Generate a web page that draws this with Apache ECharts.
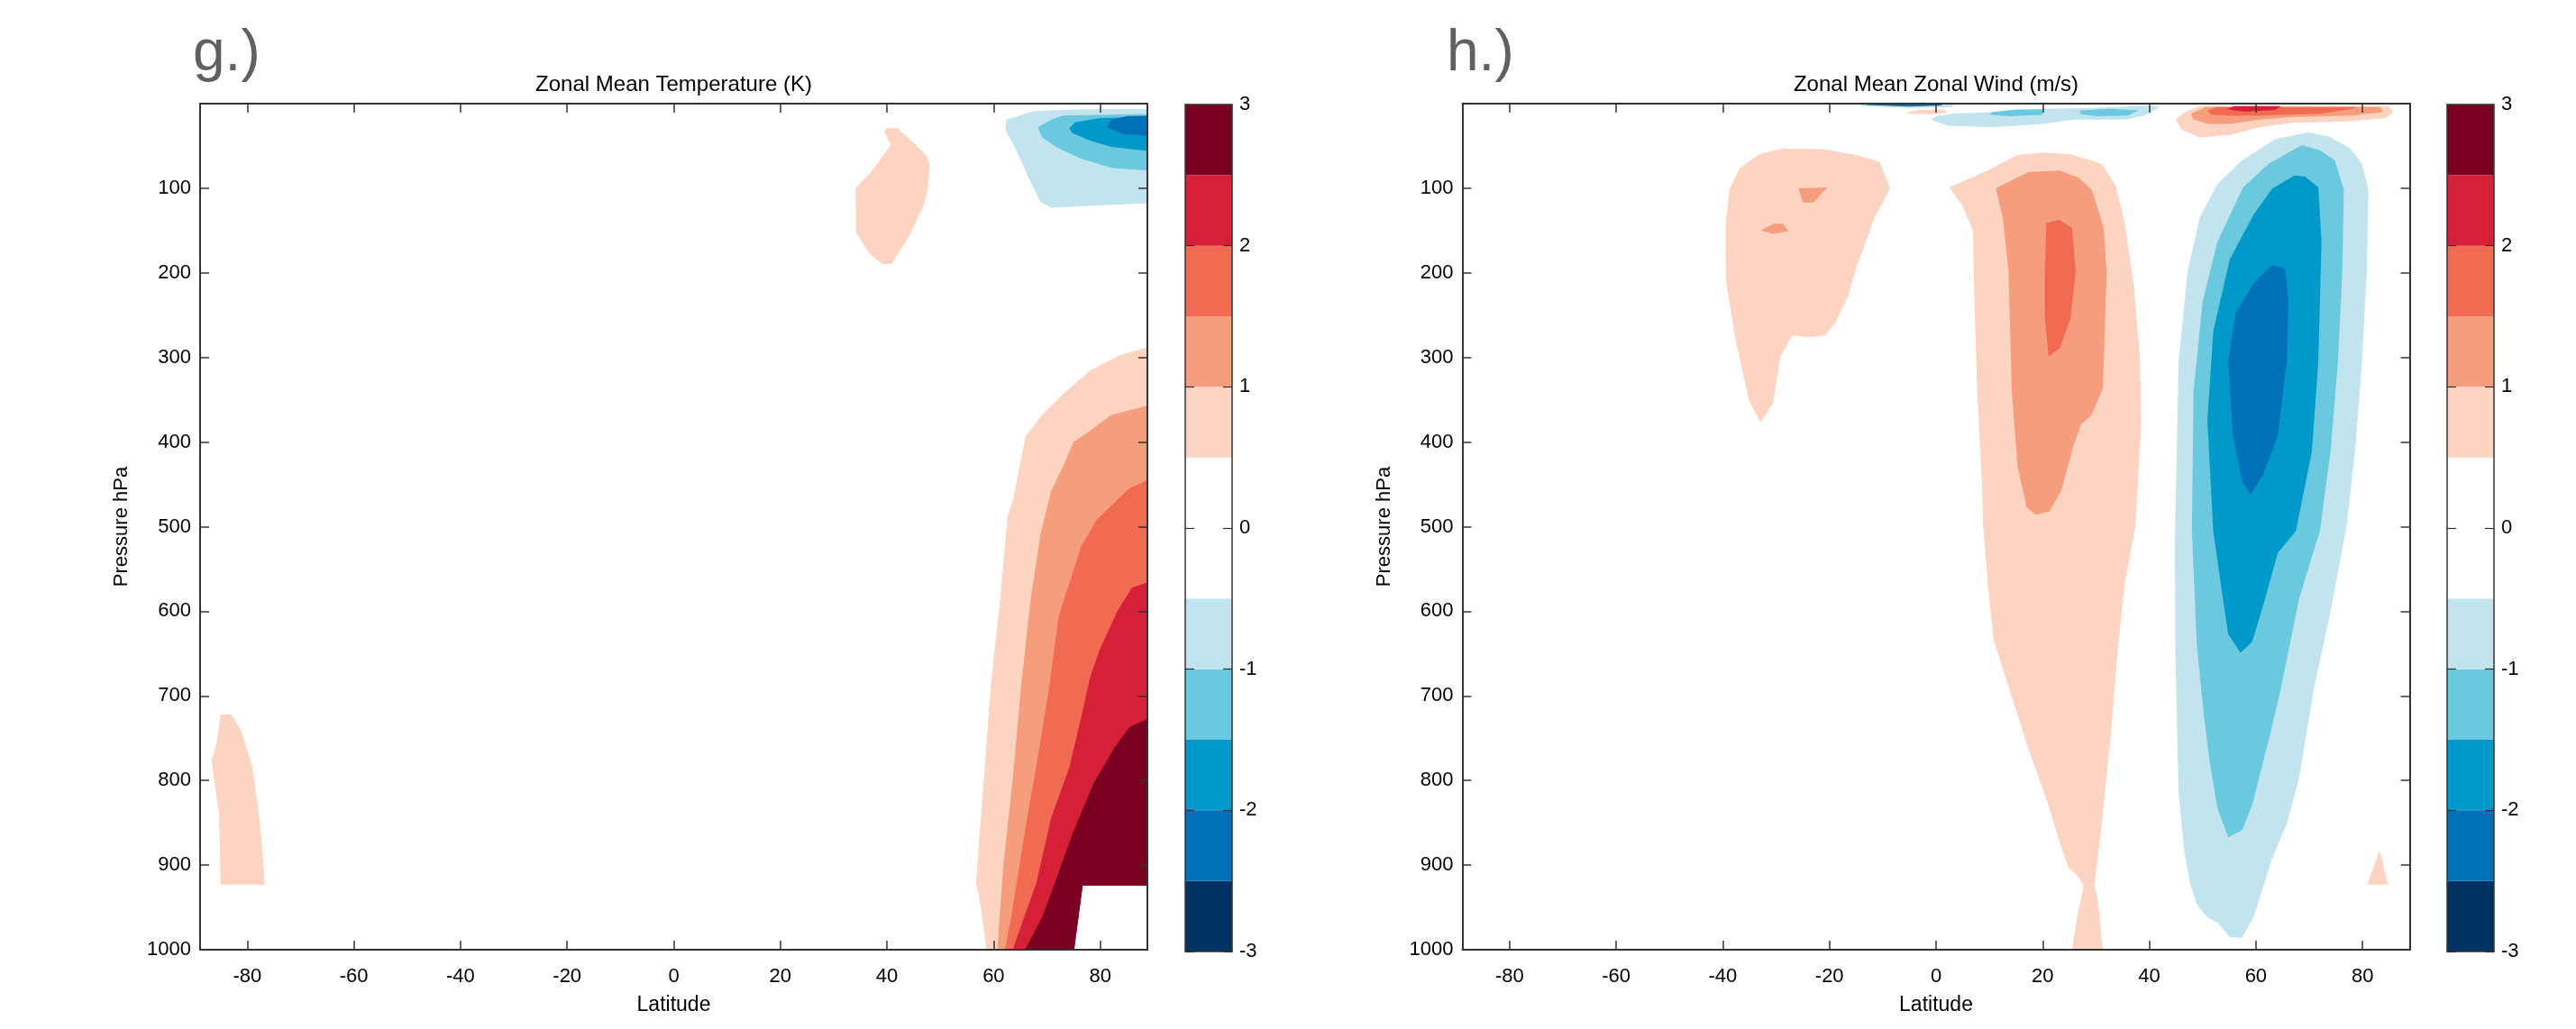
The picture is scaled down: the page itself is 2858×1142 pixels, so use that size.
<!DOCTYPE html>
<html>
<head>
<meta charset="utf-8">
<title>Zonal mean response</title>
<script src="https://cdn.jsdelivr.net/npm/echarts@6/dist/echarts.min.js"></script>
<style>
  html, body { margin: 0; padding: 0; background: #fff; }
  #chart { width: 2858px; height: 1142px; }
</style>
</head>
<body>
<div id="chart"></div>
<script>
// axis ticks
const latTicks = [-80, -60, -40, -20, 0, 20, 40, 60, 80]
const latMin = -88.85
const latMax = 88.85
const cbEdges = [-3, -2.5, -2, -1.5, -1, -0.5, 0, 0.5, 1, 1.5, 2, 2.5, 3]
const cbColors = ['#003361', '#0070b8', '#0099c9', '#6ac8df', '#c1e4ef', '#ffffff',
  '#ffffff', '#fcd4c1', '#f59d7c', '#f16b52', '#d62038', '#7a0021']

// contour polygons, [latitude, pressure hPa]
// g.) temperature
const tPeachSP = [[-85, 722], [-83, 722], [-81.1, 742], [-79.1, 783], [-78.2, 822], [-77.5, 857],
  [-76.7, 923], [-85, 923], [-85.3, 840], [-86.7, 776], [-85.8, 758], [-85.1, 726]]
const tPeachMid = [[39.8, 29], [42, 29], [45.4, 49], [47.5, 62], [48, 72], [47.7, 98], [46.9, 120],
  [44.3, 155], [40.9, 189], [39.2, 190], [36.7, 177], [34.2, 152], [34.1, 100], [37, 81],
  [40.7, 49], [39.6, 34]]
const tPeachNH = [[92, 288], [88.85, 288], [83.8, 297], [78.2, 315], [73.1, 343], [69.1, 368],
  [66, 393], [64.9, 428], [63.8, 464], [62.6, 489], [61.2, 588], [59.5, 686], [58.1, 804],
  [56.7, 922], [57.3, 938], [58.7, 1000], [58.7, 1010], [75, 1010], [75.1, 1000], [76.7, 924], [92, 924]]
const tSalmonNH = [[92, 357], [88.85, 357], [82.1, 368], [77.6, 389], [75, 400], [73.1, 428],
  [70.8, 458], [68.8, 509], [66.9, 588], [65.2, 686], [63.5, 804], [61.8, 902], [60.7, 1000],
  [60.7, 1010], [75, 1010], [75.1, 1000], [76.7, 924], [92, 924]]
const tOrangeNH = [[92, 445], [88.85, 445], [85.4, 455], [79.3, 492], [76.4, 524], [74.2, 567],
  [72.2, 606], [70.5, 686], [68.5, 765], [66.3, 844], [64.3, 922], [63.3, 962], [62.1, 1000],
  [62.1, 1010], [75, 1010], [75.1, 1000], [76.7, 924], [92, 924]]
const tRedNH = [[92, 566], [88.85, 566], [86, 572], [83.2, 600], [79.8, 647], [78.1, 678],
  [76.4, 726], [74.2, 785], [70.8, 844], [68, 922], [65.7, 962], [63.6, 1000],
  [63.6, 1010], [75, 1010], [75.1, 1000], [76.7, 924], [92, 924]]
const tDarkNH = [[92, 727], [88.85, 727], [85.5, 737], [82.7, 761], [78.7, 804], [74.8, 863],
  [71.9, 914], [69.1, 962], [65.9, 1000], [65.9, 1010], [75, 1010], [75.1, 1000], [76.7, 924], [92, 924]]
const tBlue1 = [[62.4, 19], [67.4, 9], [75, 7], [92, 6], [92, 118], [88.85, 118], [80, 120],
  [70.8, 123], [68.8, 116], [66.3, 84], [64, 52], [62.2, 31]]
const tBlue2 = [[68.3, 28], [70.8, 19], [73, 14], [92, 12], [92, 79], [88.85, 79], [82.1, 76],
  [76.4, 65], [71.9, 52], [69.1, 40]]
const tBlue3 = [[74.2, 29], [75.3, 22], [80, 17], [92, 16], [92, 56], [88.85, 56], [82.1, 51],
  [78.2, 44], [74.8, 35]]
const tBlue4 = [[81.2, 28], [82.1, 19], [85, 15], [92, 14], [92, 38], [88.85, 38], [84.3, 36]]

// h.) zonal wind
const uPeachSH = [[-36.8, 76], [-32.9, 59], [-28.7, 53], [-21, 54], [-14.8, 61], [-10.6, 69],
  [-8.6, 100], [-11.5, 134], [-14.8, 191], [-16.5, 227], [-18.8, 258], [-20.8, 274], [-23.9, 276],
  [-27, 274], [-29.2, 299], [-30.6, 354], [-32.9, 377], [-35.1, 351], [-37.7, 276], [-39.4, 209],
  [-39.5, 145], [-38.8, 102]]
const uSalmonSH1 = [[-25.8, 100], [-20.4, 99], [-23, 117], [-25, 117]]
const uSalmonSH2 = [[-32.9, 150], [-30.4, 142], [-28.7, 142], [-27.7, 151], [-30.6, 154]]
const uPeachTrop = [[2.5, 99], [10, 78], [15.1, 61], [20.1, 58], [25.2, 60], [31.1, 71], [33.7, 97],
  [35.4, 141], [37.1, 216], [38.2, 297], [38.5, 375], [37.4, 500], [35.4, 567], [34.2, 638],
  [32.8, 744], [31.1, 851], [29.7, 925], [30.3, 939], [31.3, 1000], [31.3, 1010], [25.5, 1010],
  [25.5, 1000], [26.6, 957], [27.7, 925], [26.6, 913], [24.9, 904], [23.5, 879], [20.7, 822],
  [17.3, 762], [13.9, 695], [10.8, 634], [9.7, 567], [8.8, 496], [8.6, 446], [7.7, 340],
  [7.2, 234], [6.9, 149], [4.9, 120]]
const uSalmonTrop = [[11.2, 100], [17.3, 81], [23.2, 79], [26.9, 88], [29.2, 102], [31.4, 145],
  [32, 198], [31.3, 336], [29.2, 368], [27.2, 379], [25.8, 404], [23.5, 457], [21.3, 482],
  [18.7, 486], [17, 477], [15.3, 429], [14.2, 340], [13.6, 198], [12.5, 134]]
const uOrangeTrop = [[20.7, 141], [23.1, 137], [25.5, 147], [26.2, 198], [25.2, 255], [23.2, 289],
  [21.1, 299], [20.4, 251], [20.4, 198]]
const uBlue1 = [[44.8, 520], [45.5, 305], [47.2, 198], [49.5, 134], [52.8, 95], [57.4, 67],
  [63.6, 42], [69.8, 34], [73.7, 39], [77.7, 53], [79.9, 71], [81.1, 102], [80.8, 198], [79.9, 305],
  [78.6, 411], [77, 500], [74, 600], [70.9, 691], [68.1, 797], [65.8, 851], [63, 893], [59.6, 961],
  [57.4, 986], [55.1, 985], [52.8, 968], [50.9, 962], [48.9, 946], [47.8, 925], [46.6, 886],
  [45.5, 815], [44.9, 649]]
const uBlue2 = [[48, 505], [48.3, 340], [50, 234], [52.8, 163], [57.6, 99], [62.4, 71], [68.6, 49],
  [72, 55], [74.8, 67], [76.5, 102], [76.2, 198], [75.4, 305], [74, 411], [72, 505], [68.1, 585],
  [66.4, 638], [64.7, 691], [63, 737], [61.3, 779], [59.3, 829], [57.4, 859], [54.8, 867],
  [52.8, 833], [51.2, 773], [50, 709], [48.9, 638]]
const uBlue3 = [[52, 505], [50.9, 375], [52, 269], [55.1, 184], [59.6, 131], [63, 101], [67.2, 85],
  [69.2, 86], [71.7, 99], [72.3, 163], [71.7, 305], [70.5, 411], [67.5, 505], [64.1, 531],
  [61.6, 588], [59.3, 636], [57.1, 649], [54.8, 627], [53.4, 567]]
const uBlue4 = [[63, 191], [65.5, 195], [66.1, 234], [65.8, 305], [64.1, 393], [61.3, 439],
  [59, 462], [57.4, 446], [55.7, 393], [54.8, 305], [56.2, 248], [59.6, 212]]
const uPeachNP = [[83.2, 883], [84.8, 923], [80.9, 923]]
// thin features near the model top
const uBlueTop1 = [[-14, -5], [4, -5], [3, 4], [-5, 5], [-14, 3]]
const uBlueTop4 = [[-13, -5], [2, -5], [1, 2], [-5, 3.5], [-13, 1.5]]
const uPeachTop = [[-5.5, 10], [-3, 7.5], [1.5, 7], [2, 11], [-1, 12.5], [-5, 12]]
const uBlueBand = [[-1, 19], [2.3, 26], [10.5, 28], [20, 24], [26, 19], [35.5, 19], [39.1, 14],
  [42, 4], [40, 2], [30, 5], [20, 6], [10, 10], [3, 12], [0, 15]]
const uBlueBandA = [[10.5, 10], [15, 7], [20, 7], [20, 13], [14, 15], [10, 13]]
const uBlueBandB = [[27, 8], [33, 6], [38, 8], [36, 14], [30, 15], [27, 12]]
const uPeachTopN = [[44.9, 19], [46.6, 10], [49.5, 3], [85, 3], [85.8, 10], [84.4, 17], [77.7, 21],
  [66.4, 23], [60.7, 28], [55.1, 37], [49.5, 40], [46.1, 31]]
const uSalmonTopN = [[48.3, 19], [47.8, 12], [50.6, 4], [83.3, 4], [83.9, 10], [77.7, 14],
  [66.4, 16], [60.7, 19], [55.1, 24], [51.2, 24]]
const uOrangeTopN = [[51.7, 13], [50.9, 8.5], [52.5, 4], [79, 4], [77.7, 6.7], [72, 12],
  [60.7, 14], [55.1, 14]]
const uRedTopN = [[54.5, 6.7], [56, 3], [64.7, 3], [63.6, 7.4], [57.9, 9.5]]

// drawing order per panel: [polygon, colour bin index]
const tempLayers = [
  [tPeachSP, 7], [tPeachMid, 7], [tPeachNH, 7], [tSalmonNH, 8], [tOrangeNH, 9], [tRedNH, 10],
  [tDarkNH, 11], [tBlue1, 4], [tBlue2, 3], [tBlue3, 2], [tBlue4, 1]
]
const windLayers = [
  [uPeachSH, 7], [uSalmonSH1, 8], [uSalmonSH2, 8],
  [uPeachTrop, 7], [uSalmonTrop, 8], [uOrangeTrop, 9],
  [uBlue1, 4], [uBlue2, 3], [uBlue3, 2], [uBlue4, 1], [uPeachNP, 7],
  [uBlueTop1, 4], [uBlueTop4, 1], [uPeachTop, 7], [uBlueBand, 4], [uBlueBandA, 3], [uBlueBandB, 3],
  [uPeachTopN, 7], [uSalmonTopN, 8], [uOrangeTopN, 9], [uRedTopN, 10]
]

const font = 'Liberation Sans'
const lineColor = '#333'
const plots = [
  { left: 222, title: 'Zonal Mean Temperature (K)', tag: 'g.)', tagLeft: 209, layers: tempLayers, cb: 1315 },
  { left: 1622.5, title: 'Zonal Mean Zonal Wind (m/s)', tag: 'h.)', tagLeft: 1600, layers: windLayers, cb: 2715 }
]
const plotTop = 115
const plotW = 1051
const plotH = 939

let chart = echarts.init(document.getElementById('chart'), null, { renderer: 'canvas' })

let grid = []
let xAxis = []
let yAxis = []
let series = []
let title = []

function tickStyle() {
  return { show: true, inside: true, length: 10, lineStyle: { color: lineColor, width: 1.5 } }
}
function frameLine(w) {
  return { show: true, onZero: false, lineStyle: { color: lineColor, width: w } }
}

plots.forEach(function (pl, k) {
  grid.push({ left: pl.left, top: plotTop, width: plotW, height: plotH })
  grid.push({ left: pl.cb, top: plotTop + 1, width: 52, height: plotH + 1 })
  let g = k * 2
  let c = k * 2 + 1
  title.push({
    text: pl.tag, left: pl.tagLeft, top: 23,
    textStyle: { fontFamily: font, fontWeight: 'normal', fontSize: 64, color: '#606060' }
  })
  // lat/pressure axes, bottom & left with labels, top & right only ticks
  xAxis.push({
    type: 'value', gridIndex: g, min: latMin, max: latMax, position: 'bottom', z: 10,
    name: 'Latitude', nameLocation: 'middle', nameGap: 50,
    nameTextStyle: { fontFamily: font, fontSize: 23, color: '#000' },
    axisLine: frameLine(2),
    axisTick: Object.assign(tickStyle(), { customValues: latTicks }),
    axisLabel: { customValues: latTicks, margin: 19, fontFamily: font, fontSize: 22, color: '#000' },
    splitLine: { show: false }
  })
  xAxis.push({
    type: 'value', gridIndex: g, min: latMin, max: latMax, position: 'top', z: 10,
    name: pl.title, nameLocation: 'middle', nameGap: 9,
    nameTextStyle: { fontFamily: font, fontSize: 24, color: '#000' },
    axisLine: frameLine(2),
    axisTick: Object.assign(tickStyle(), { customValues: latTicks }),
    axisLabel: { show: false },
    splitLine: { show: false }
  })
  yAxis.push({
    type: 'value', gridIndex: g, min: 0, max: 1000, interval: 100, inverse: true, position: 'left', z: 10,
    name: 'Pressure hPa', nameLocation: 'middle', nameGap: 76, nameRotate: 90,
    nameTextStyle: { fontFamily: font, fontSize: 22, color: '#000' },
    axisLine: frameLine(2),
    axisTick: tickStyle(),
    axisLabel: {
      margin: 10, fontFamily: font, fontSize: 22, color: '#000',
      formatter: function (v) { return v === 0 ? '' : String(v) }
    },
    splitLine: { show: false }
  })
  yAxis.push({
    type: 'value', gridIndex: g, min: 0, max: 1000, interval: 100, inverse: true, position: 'right', z: 10,
    axisLine: frameLine(2),
    axisTick: tickStyle(),
    axisLabel: { show: false },
    splitLine: { show: false }
  })
  // colour bar axes
  xAxis.push({
    type: 'value', gridIndex: c, min: 0, max: 1, position: 'bottom', z: 10,
    axisLine: frameLine(1.5),
    axisTick: { show: false }, axisLabel: { show: false }, splitLine: { show: false }
  })
  xAxis.push({
    type: 'value', gridIndex: c, min: 0, max: 1, position: 'top', z: 10,
    axisLine: frameLine(1.5),
    axisTick: { show: false }, axisLabel: { show: false }, splitLine: { show: false }
  })
  yAxis.push({
    type: 'value', gridIndex: c, min: -3, max: 3, interval: 1, position: 'left', z: 10,
    axisLine: frameLine(1.5),
    axisTick: { show: true, inside: true, length: 10, lineStyle: { color: lineColor, width: 1.2 } },
    axisLabel: { show: false }, splitLine: { show: false }
  })
  yAxis.push({
    type: 'value', gridIndex: c, min: -3, max: 3, interval: 1, position: 'right', z: 10,
    axisLine: frameLine(1.5),
    axisTick: { show: true, inside: true, length: 10, lineStyle: { color: lineColor, width: 1.2 } },
    axisLabel: { margin: 8, fontFamily: font, fontSize: 22, color: '#000' },
    splitLine: { show: false }
  })

  // filled contour layers
  pl.layers.forEach(function (layer) {
    let pts = layer[0]
    let color = cbColors[layer[1]]
    series.push({
      type: 'custom', xAxisIndex: k * 4, yAxisIndex: k * 4, clip: true, silent: true,
      data: pts,
      renderItem: function (params, api) {
        if (params.dataIndex !== 0) return null
        return {
          type: 'polygon',
          shape: { points: pts.map(function (p) { return api.coord(p) }) },
          style: { fill: color }
        }
      }
    })
  })

  // colour bar
  series.push({
    type: 'custom', xAxisIndex: k * 4 + 2, yAxisIndex: k * 4 + 2, silent: true,
    data: cbEdges.slice(0, -1).map(function (lo, i) { return [0, lo, cbEdges[i + 1], i] }),
    renderItem: function (params, api) {
      let p0 = api.coord([0, api.value(2)])
      let p1 = api.coord([1, api.value(1)])
      return {
        type: 'rect',
        shape: { x: p0[0], y: p0[1], width: p1[0] - p0[0], height: p1[1] - p0[1] },
        style: { fill: cbColors[api.value(3)] }
      }
    }
  })
})

let option = {
  backgroundColor: '#fff',
  animation: false,
  title: title,
  grid: grid,
  xAxis: xAxis,
  yAxis: yAxis,
  series: series
}
chart.setOption(option)
window.addEventListener('resize', function () {
  chart.resize()
})
</script>
</body>
</html>
